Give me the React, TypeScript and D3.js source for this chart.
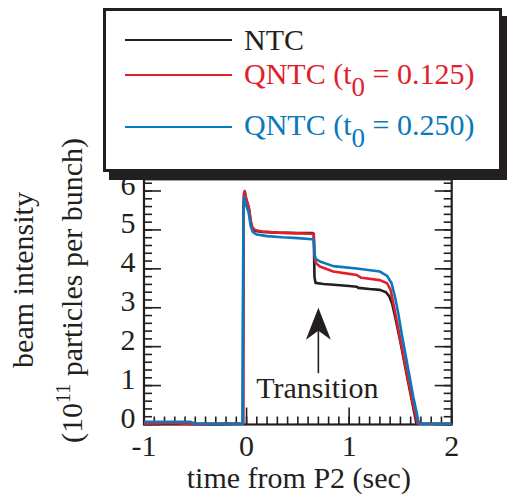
import React from 'react';
import * as d3 from 'd3';

// series: [time from P2 (sec), beam intensity (1e11)]
const ntc: [number, number][] = [
  [-1, 0.02], [-0.6, 0.02], [-0.3, 0.01], [-0.04, 0.02], [-0.034, 0.02], [-0.03, 5.6],
  [-0.024, 5.95], [-0.017, 5.98], [-0.01, 5.86], [0.0, 5.75], [0.012, 5.66], [0.025, 5.5],
  [0.04, 5.2], [0.055, 5.05], [0.08, 4.98], [0.15, 4.95], [0.3, 4.93], [0.5, 4.92],
  [0.64, 4.92], [0.655, 4.9], [0.662, 3.8], [0.672, 3.64], [0.75, 3.61], [0.85, 3.59],
  [1.0, 3.56], [1.075, 3.54], [1.09, 3.51], [1.2, 3.48], [1.3, 3.46], [1.36, 3.4],
  [1.39, 3.3], [1.42, 3.1], [1.45, 2.75], [1.5, 2.12], [1.56, 1.3], [1.62, 0.5],
  [1.655, 0.04], [1.67, 0.02], [1.8, 0.02], [2, 0.02],
];
const qntc125: [number, number][] = [
  [-1, 0.02], [-0.75, 0.04], [-0.5, 0.01], [-0.2, 0.03], [-0.034, 0.02], [-0.03, 5.5],
  [-0.024, 5.92], [-0.018, 6.0], [-0.01, 5.88], [0.0, 5.78], [0.025, 5.55], [0.04, 5.25],
  [0.055, 5.08], [0.08, 5.0], [0.15, 4.96], [0.3, 4.93], [0.5, 4.91], [0.64, 4.9],
  [0.655, 4.88], [0.665, 4.25], [0.675, 4.15], [0.715, 4.06], [0.845, 3.93], [1.0, 3.87],
  [1.075, 3.84], [1.12, 3.77], [1.3, 3.71], [1.37, 3.63], [1.404, 3.46], [1.437, 3.03],
  [1.469, 2.6], [1.5, 2.17], [1.56, 1.35], [1.625, 0.5], [1.665, 0.03], [1.68, 0.02],
  [2, 0.02],
];
const qntc250: [number, number][] = [
  [-1, 0.07], [-0.55, 0.07], [-0.5, 0.02], [-0.04, 0.02], [-0.036, 3.0], [-0.03, 5.5],
  [-0.022, 5.85], [-0.01, 5.7], [0.0, 5.6], [0.02, 5.45], [0.04, 5.1], [0.06, 4.95],
  [0.1, 4.88], [0.2, 4.84], [0.35, 4.81], [0.5, 4.79], [0.64, 4.76], [0.655, 4.74],
  [0.665, 4.35], [0.675, 4.25], [0.715, 4.19], [0.845, 4.07], [1.073, 4.01], [1.3, 3.93],
  [1.37, 3.82], [1.414, 3.63], [1.446, 3.29], [1.479, 2.86], [1.512, 2.34], [1.56, 1.65],
  [1.625, 0.72], [1.68, 0.03], [1.7, 0.02], [2, 0.02],
];

const xTicks = [-1, 0, 1, 2];
const xTickLabels = ['-1', '0', '1', '2'];
const yTicks = [0, 1, 2, 3, 4, 5, 6];
const xMinor = d3.range(-1, 2.0001, 0.1);
const yMinor = d3.range(0, 6.3, 0.2);

const seriesNames = ['NTC', 'QNTC (t', 'QNTC (t'];
const seriesSubs = ['', '0', '0'];
const seriesTails = ['', ' = 0.125)', ' = 0.250)'];
const seriesColors = ['#231f20', '#e2202b', '#0b78be'];

// transition arrow (data coords)
const arrowX = 0.7;
const arrowTip = 3.0;
const arrowTail = 1.32;
const transitionLabelX = 0.69;
const transitionLabelY = 0.68;

const W = 507;
const H = 500;
const INK = '#231f20';
const font = { fontFamily: '"Liberation Serif"' };

const x = d3.scaleLinear().domain([-1, 2]).range([144, 451.7]);
const y = d3.scaleLinear().domain([0, 6]).range([424.5, 191]);

const App = () => {
  const top = y(6.3);
  const bottom = y(0);
  const left = x(-1);
  const right = x(2);
  const line = d3.line<[number, number]>().x(d => x(d[0])).y(d => y(d[1]));
  const ax = x(arrowX);
  const tipY = y(arrowTip);
  const rowLineY = [40, 75, 127];
  const rowTextY = [49.5, 83.5, 135];

  return (
    <svg width={W} height={H} viewBox={`0 0 ${W} ${H}`}
      style={{ position: 'absolute', left: 0, top: 0, background: '#fff' }}>
      {/* ticks, inward on left, right and bottom */}
      <g stroke={INK} strokeWidth={1.6}>
        {xMinor.map((v, i) => (
          <line key={'xm' + i} x1={x(v)} x2={x(v)} y1={bottom} y2={bottom - 8} />
        ))}
        {xTicks.map(v => (
          <line key={'xM' + v} x1={x(v)} x2={x(v)} y1={bottom} y2={bottom - 17} />
        ))}
        {yMinor.map((v, i) => (
          <g key={'ym' + i}>
            <line x1={left} x2={left + 8} y1={y(v)} y2={y(v)} />
            <line x1={right} x2={right - 8} y1={y(v)} y2={y(v)} />
          </g>
        ))}
        {yTicks.map(v => (
          <g key={'yM' + v}>
            <line x1={left} x2={left + 17} y1={y(v)} y2={y(v)} />
            <line x1={right} x2={right - 17} y1={y(v)} y2={y(v)} />
          </g>
        ))}
      </g>
      <rect x={left} y={top} width={right - left} height={bottom - top}
        fill="none" stroke={INK} strokeWidth={2.2} />

      {/* tick labels */}
      {xTicks.map((v, i) => (
        <text key={'xl' + v} x={x(v)} y={bottom + 31} textAnchor="middle" fontSize={30} fill={INK} style={font}>
          {xTickLabels[i]}
        </text>
      ))}
      {yTicks.map(v => (
        <text key={'yl' + v} x={left - 8.5} y={y(v) + 3.5} textAnchor="end" fontSize={30} fill={INK} style={font}>
          {v}
        </text>
      ))}

      {/* curves */}
      {[ntc, qntc125, qntc250].map((s, i) => (
        <path key={'s' + i} d={line(s) || ''} fill="none" stroke={seriesColors[i]}
          strokeWidth={2.6} strokeLinejoin="round" />
      ))}

      {/* transition arrow */}
      <line x1={ax} x2={ax} y1={tipY + 20} y2={y(arrowTail)} stroke={INK} strokeWidth={1.6} />
      <path d={`M${ax},${tipY} L${ax + 12.5},${tipY + 32} L${ax},${tipY + 23} L${ax - 12.5},${tipY + 32} Z`} fill={INK} />
      <text x={x(transitionLabelX)} y={y(transitionLabelY)} textAnchor="middle" fontSize={30} fill={INK} style={font}>
        Transition
      </text>

      {/* axis titles */}
      <text x={(left + right) / 2 + 1} y={488} textAnchor="middle" fontSize={30} fill={INK} style={font}>
        time from P2 (sec)
      </text>
      <text transform={`translate(33,${(190 + 370) / 2}) rotate(-90)`} textAnchor="middle" fontSize={30} fill={INK} style={font}>
        beam intensity
      </text>
      <text transform="translate(82,443) rotate(-90)" fontSize={30} fill={INK} style={font}>
        <tspan>(10</tspan>
        <tspan dy={-12} fontSize={20}>11</tspan>
        <tspan dy={12}> particles per bunch)</tspan>
      </text>

      {/* legend box with drop shadow */}
      <rect x={109} y={16} width={398} height={164} fill={INK} />
      <rect x={104.5} y={9.5} width={396} height={161} fill="#fff" stroke={INK} strokeWidth={3} />
      {seriesNames.map((name, i) => (
        <g key={'lg' + i}>
          <line x1={125} x2={232} y1={rowLineY[i]} y2={rowLineY[i]} stroke={seriesColors[i]} strokeWidth={1.8} />
          <text x={244} y={rowTextY[i]} fontSize={30} fill={seriesColors[i]} style={font}>
            <tspan>{name}</tspan>
            {seriesSubs[i] ? <tspan dy={12} fontSize={27}>{seriesSubs[i]}</tspan> : null}
            {seriesSubs[i] ? <tspan dy={-12}>{seriesTails[i]}</tspan> : null}
          </text>
        </g>
      ))}
    </svg>
  );
};

export default App;
